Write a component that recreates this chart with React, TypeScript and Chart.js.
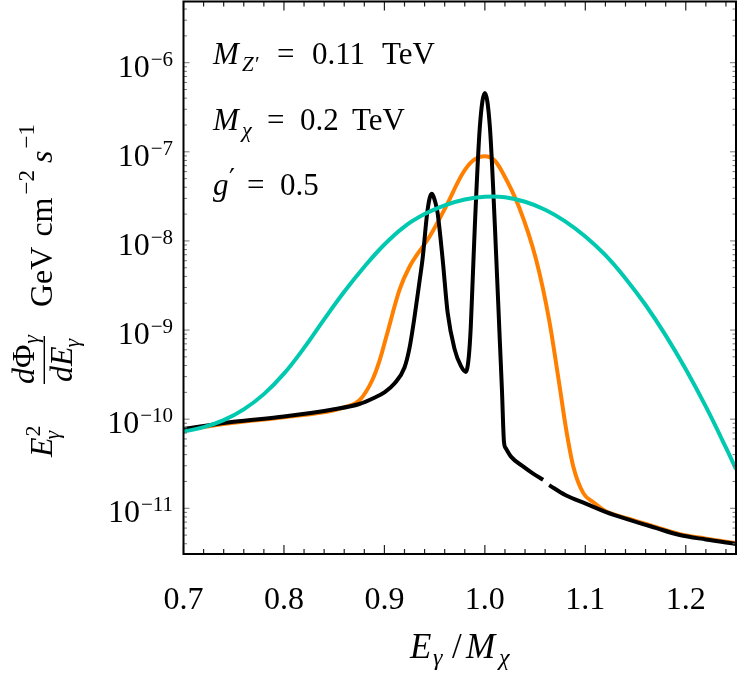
import { useEffect, useRef } from "react";
import { Chart, registerables } from "chart.js";

Chart.register(...registerables);

// x = E_gamma / M_chi, y = E^2 dPhi/dE  [GeV cm^-2 s^-1]
const blackX = [
  0.7, 0.75, 0.8, 0.85, 0.875, 0.89, 0.9, 0.91, 0.92, 0.925, 0.93, 0.935, 0.938, 0.943, 0.947, 0.951,
  0.953, 0.958, 0.963, 0.97, 0.976, 0.981, 0.984, 0.986, 0.988, 0.99, 0.995, 1.0, 1.005, 1.01, 1.015,
  1.017, 1.019, 1.021, 1.026, 1.038, 1.048, 1.058, 1.061, 1.064, 1.08, 1.101, 1.12, 1.144, 1.17, 1.194,
  1.22, 1.25,
];
const blackY = [
  7.76e-11, 9.33e-11, 1.07e-10, 1.29e-10, 1.48e-10, 1.74e-10, 2.0e-10, 2.51e-10, 3.8e-10, 6.3e-10,
  1.41e-9, 3.55e-9, 6.3e-9, 2.24e-8, 3.39e-8, 2.63e-8, 2.04e-8, 6.17e-9, 1.55e-9, 6.03e-10, 3.98e-10,
  3.39e-10, 5.01e-10, 1.1e-9, 3.98e-9, 1.45e-8, 1.9e-7, 4.57e-7, 1.9e-7, 1.45e-8, 7.08e-10, 2.14e-10,
  5.62e-11, 4.68e-11, 3.8e-11, 2.95e-11, 2.45e-11, 2.09e-11, null, 1.82e-11, 1.41e-11, 1.12e-11,
  9.12e-12, 7.41e-12, 6.03e-12, 5.01e-12, 4.47e-12, 3.98e-12,
];

const orangeX = [
  0.7, 0.75, 0.8, 0.85, 0.862, 0.875, 0.888, 0.895, 0.902, 0.915, 0.925, 0.945, 0.961, 0.978, 0.988,
  1.0, 1.01, 1.018, 1.034, 1.051, 1.064, 1.074, 1.081, 1.088, 1.098, 1.108, 1.12, 1.144, 1.17, 1.194,
  1.22, 1.25,
];
const orangeY = [
  7.59e-11, 9.12e-11, 1.05e-10, 1.26e-10, 1.38e-10, 1.62e-10, 2.75e-10, 4.47e-10, 8.51e-10, 2.82e-9,
  5.13e-9, 1.12e-8, 2.4e-8, 5.75e-8, 7.94e-8, 8.91e-8, 7.94e-8, 5.75e-8, 2.4e-8, 6.17e-9, 1.29e-9,
  2.51e-10, 7.59e-11, 2.95e-11, 1.48e-11, 1.17e-11, 9.33e-12, 7.59e-12, 6.17e-12, 5.13e-12, 4.57e-12,
  4.07e-12,
];

const cyanX = [
  0.7, 0.72, 0.74, 0.76, 0.78, 0.8, 0.82, 0.84, 0.86, 0.88, 0.9, 0.92, 0.94, 0.96, 0.98, 1.0, 1.02,
  1.04, 1.06, 1.08, 1.1, 1.12, 1.14, 1.16, 1.18, 1.2, 1.22, 1.24, 1.25,
];
const cyanY = [
  7.24e-11, 8.13e-11, 9.77e-11, 1.29e-10, 1.91e-10, 3.24e-10, 6.31e-10, 1.32e-9, 2.69e-9, 5.13e-9,
  9.12e-9, 1.45e-8, 2.0e-8, 2.51e-8, 2.92e-8, 3.13e-8, 3.09e-8, 2.75e-8, 2.24e-8, 1.66e-8, 1.12e-8,
  6.92e-9, 3.8e-9, 1.91e-9, 8.71e-10, 3.63e-10, 1.38e-10, 4.79e-11, 2.75e-11,
];

const xTicks = [0.7, 0.8, 0.9, 1.0, 1.1, 1.2];
const yExponents = [-11, -10, -9, -8, -7, -6];

const X_MIN = 0.7;
const X_MAX = 1.25;
const Y_MIN = 3.07e-12;
const Y_MAX = 4.86e-6;

const SERIF = '"Liberation Serif", "Times New Roman", serif';

function put(ctx: CanvasRenderingContext2D, s: string, x: number, y: number, size: number, italic = false, align: CanvasTextAlign = "left", family = SERIF) {
  ctx.font = `${italic ? "italic " : ""}${size}px ${family}`;
  ctx.textAlign = align;
  ctx.fillText(s, x, y);
  return ctx.measureText(s).width;
}

const decorPlugin = {
  id: "decor",
  afterDraw(chart: any) {
    const ctx: CanvasRenderingContext2D = chart.ctx;
    const { left, right, top, bottom } = chart.chartArea;
    const xs = chart.scales.x;
    const ys = chart.scales.y;
    ctx.save();
    ctx.fillStyle = "#000";
    ctx.textBaseline = "alphabetic";

    // inward ticks, x (every 0.02)
    ctx.strokeStyle = "#222";
    ctx.lineWidth = 1.2;
    for (let i = 35; i <= 62; i++) {
      const px = xs.getPixelForValue(i / 50);
      const len = i % 5 === 0 ? 9 : 5;
      ctx.beginPath();
      ctx.moveTo(px, bottom);
      ctx.lineTo(px, bottom - len);
      ctx.moveTo(px, top);
      ctx.lineTo(px, top + len);
      ctx.stroke();
    }
    // inward ticks, y (log)
    ctx.strokeStyle = "#777";
    ctx.lineWidth = 1;
    for (let e = -12; e <= -6; e++) {
      for (let m = 1; m <= 9; m++) {
        const v = m * Math.pow(10, e);
        if (v < Y_MIN || v > Y_MAX) continue;
        const py = ys.getPixelForValue(v);
        const len = m === 1 ? 6 : 3.5;
        ctx.beginPath();
        ctx.moveTo(left, py);
        ctx.lineTo(left + len, py);
        ctx.moveTo(right, py);
        ctx.lineTo(right - len, py);
        ctx.stroke();
      }
    }

    // frame
    ctx.strokeStyle = "#000";
    ctx.lineWidth = 2;
    ctx.strokeRect(left, top, right - left, bottom - top);

    // x tick labels
    xTicks.forEach((v) => put(ctx, v.toFixed(1), xs.getPixelForValue(v), 609, 32, false, "center"));

    // y tick labels 10^e
    yExponents.forEach((e) => {
      const py = ys.getPixelForValue(Math.pow(10, e));
      ctx.font = `21px ${SERIF}`;
      const sup = "\u2212" + Math.abs(e);
      const sw = ctx.measureText(sup).width;
      put(ctx, sup, 173, py + 3, 21, false, "right");
      put(ctx, "10", 173 - sw - 1, py + 14, 32, false, "right");
    });

    // annotations
    put(ctx, "M", 213, 64, 31, true);
    put(ctx, "Z\u2032", 242, 71, 21, true);
    put(ctx, "=", 277, 64, 31);
    put(ctx, "0.11", 312, 64, 31);
    put(ctx, "TeV", 382, 64, 31);

    put(ctx, "M", 213, 130, 31, true);
    put(ctx, "\u03c7", 242, 137, 22, true);
    put(ctx, "=", 267, 130, 31);
    put(ctx, "0.2", 300, 130, 31);
    put(ctx, "TeV", 352, 130, 31);

    put(ctx, "g", 213, 195, 31, true);
    put(ctx, "\u2032", 229, 188, 26, false, "left", '"DejaVu Sans", sans-serif');
    put(ctx, "=", 247, 195, 31);
    put(ctx, "0.5", 280, 195, 31);

    // x title
    put(ctx, "E", 410, 658, 35, true);
    put(ctx, "\u03b3", 433, 665, 24, true);
    put(ctx, "/", 452, 658, 35);
    put(ctx, "M", 466, 658, 35, true);
    put(ctx, "\u03c7", 499, 665, 24, true);

    // y title (rotated)
    ctx.translate(52, 0);
    ctx.rotate(-Math.PI / 2);
    const Y = (s: number) => -s;
    const w = put(ctx, "E", Y(457), 0, 32, true);
    put(ctx, "2", Y(457) + w + 1, -12, 22);
    put(ctx, "\u03b3", Y(457) + w - 2, 7, 22, true);
    // fraction
    ctx.lineWidth = 1.4;
    ctx.beginPath();
    ctx.moveTo(Y(384), -7.7);
    ctx.lineTo(Y(336), -7.7);
    ctx.stroke();
    ctx.font = `italic 32px ${SERIF}`;
    const dW = ctx.measureText("d").width;
    ctx.font = `32px ${SERIF}`;
    const phiW = ctx.measureText("\u03a6").width;
    ctx.font = `italic 32px ${SERIF}`;
    const eW = ctx.measureText("E").width;
    ctx.font = `italic 22px ${SERIF}`;
    const gW = ctx.measureText("\u03b3").width;
    let nx = Y(360) - (dW + phiW + gW) / 2;
    nx += put(ctx, "d", nx, -18, 32, true);
    nx += put(ctx, "\u03a6", nx, -18, 32);
    put(ctx, "\u03b3", nx + 1, -14, 22, true);
    let dx = Y(360) - (dW + eW + gW) / 2;
    dx += put(ctx, "d", dx, 20, 32, true);
    dx += put(ctx, "E", dx, 20, 32, true);
    put(ctx, "\u03b3", dx - 1, 27, 22, true);
    let tx = Y(307);
    tx += put(ctx, "GeV", tx, 0, 32) + 10;
    tx += put(ctx, "cm", tx, 0, 32) + 3;
    tx += put(ctx, "\u22122", tx, -18, 23) + 7;
    tx += put(ctx, "s", tx, 0, 32, true) + 2;
    put(ctx, "\u22121", tx, -18, 23);

    ctx.restore();
  },
};

const pts = (xs: number[], ys: (number | null)[]) => xs.map((x, i) => ({ x, y: ys[i] }));

export default function App() {
  const canvasRef = useRef<HTMLCanvasElement>(null);
  const chartRef = useRef<Chart | null>(null);

  useEffect(() => {
    if (!canvasRef.current) return;
    const ctx = canvasRef.current.getContext("2d");
    if (!ctx) return;

    const line = { borderWidth: 4, pointRadius: 0, spanGaps: false, fill: false, borderJoinStyle: "round" as const };

    chartRef.current?.destroy();
    chartRef.current = new Chart(ctx, {
      type: "line",
      data: {
        datasets: [
          { ...line, label: "cyan", data: pts(cyanX, cyanY), borderColor: "#00c9b0", tension: 0.4, order: 1 },
          { ...line, label: "black", data: pts(blackX, blackY), borderColor: "#000000", cubicInterpolationMode: "monotone", order: 2 },
          { ...line, label: "orange", data: pts(orangeX, orangeY), borderColor: "#ff8000", cubicInterpolationMode: "monotone", order: 3 },
        ] as any,
      },
      options: {
        responsive: true,
        maintainAspectRatio: false,
        animation: false,
        layout: { padding: { left: 183.5, right: 11, top: 1.5, bottom: 123 } },
        plugins: { legend: { display: false }, tooltip: { enabled: false } },
        scales: {
          x: { type: "linear", min: X_MIN, max: X_MAX, display: false },
          y: { type: "logarithmic", min: Y_MIN, max: Y_MAX, display: false },
        },
      },
      plugins: [decorPlugin],
    });

    return () => chartRef.current?.destroy();
  }, []);

  return (
    <div style={{ position: "absolute", left: 0, top: 0, width: 747, height: 677, background: "#fff" }}>
      <canvas ref={canvasRef} />
    </div>
  );
}
